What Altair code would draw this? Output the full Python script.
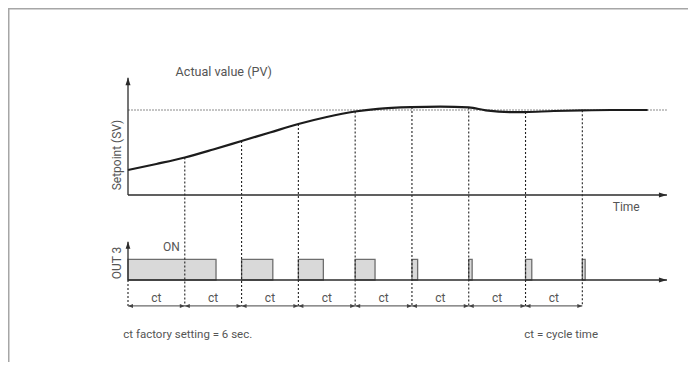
import altair as alt
import pandas as pd

# ---------------- data ----------------
# cycle boundaries, in units of the cycle time ct
ct_ticks = [0, 1, 2, 3, 4, 5, 6, 7, 8]
# actual value (PV) in % of setpoint
pv_t = [0, 0.5, 1, 1.5, 2, 2.5, 3, 3.5, 4, 4.4, 5, 5.5, 6, 6.3, 6.75, 7, 7.5, 8, 8.5, 9.15]
pv_val = [29.4, 36.5, 44.1, 53.5, 63.5, 73.5, 83.5, 91.8, 98.2, 101.4, 103.4, 103.9,
          103.0, 99.6, 97.4, 97.6, 98.8, 99.6, 100, 100]
setpoint = 100
# OUT 3 switched ON from pulse_on to pulse_off (ct units)
pulse_on = [0, 2, 3, 4, 5, 6, 7, 8]
pulse_off = [1.55, 2.55, 3.44, 4.35, 5.10, 6.06, 7.11, 8.05]

# ---------------- layout / style ----------------
W, H = 680, 354
X0, PX_CT = 120, 56.79
T_END = 9.49
PV_TOP = 138
OUT_TOP = 1.85
CT_ROW = -1.25
PV_RANGE = [187, 102]
OUT_RANGE = [272, 251.3]   # pixel rows of OUT state 0 and 1
FONT = "Roboto"
TXT = "#555555"
AX = "#2b2b2b"

xs = alt.Scale(domain=[0, 10], range=[X0, X0 + 10 * PX_CT], nice=False, zero=False)
ys = alt.Scale(domain=[0, 100], range=PV_RANGE, nice=False, zero=False)


def lane(v):
    """place an OUT-state level (0 = off, 1 = on) in the lower lane of the diagram"""
    pix = OUT_RANGE[0] + (OUT_RANGE[1] - OUT_RANGE[0]) * v
    return (pix - PV_RANGE[0]) / ((PV_RANGE[1] - PV_RANGE[0]) / 100.0)


def X(f):
    return alt.X(f, type="quantitative", scale=xs, axis=None)


def Y(f):
    return alt.Y(f, type="quantitative", scale=ys, axis=None)


pv_at = dict(zip(pv_t, pv_val))

curve_df = pd.DataFrame({"t": pv_t, "pv": pv_val})
sp_df = pd.DataFrame({"t0": [0], "t1": [T_END], "sp": [setpoint]})
pulse_df = pd.DataFrame({"on": pulse_on, "off": pulse_off, "lo": lane(0), "hi": lane(1)})
drop_df = pd.DataFrame({
    "t": ct_ticks,
    "top": [lane(0) if t == 0 else pv_at[t] for t in ct_ticks],
    "bot": lane(CT_ROW),
})
iv_df = pd.DataFrame({
    "s": ct_ticks[:-1],
    "e": ct_ticks[1:],
    "m": [(a + b) / 2 for a, b in zip(ct_ticks[:-1], ct_ticks[1:])],
    "row": lane(CT_ROW),
    "lab": "ct",
    "lab_y": lane(-0.85),
})

# axes as data
pv_axis_v = pd.DataFrame({"t": [0], "a": [0], "b": [PV_TOP]})
pv_axis_h = pd.DataFrame({"a": [0], "b": [T_END], "v": [0]})
out_axis_v = pd.DataFrame({"t": [0], "a": [lane(0)], "b": [lane(OUT_TOP)]})
out_axis_h = pd.DataFrame({"a": [0], "b": [T_END], "v": [lane(0)]})

UP = "M0,-1L0.68,1L-0.68,1Z"
RIGHT = "M1,0L-1,-0.6L-1,0.6Z"
SRIGHT = "M1,0L-1,-0.8L-1,0.8Z"
SLEFT = "M-1,0L1,-0.8L1,0.8Z"

layers = []

# frame (top and left edges only)
frame = pd.DataFrame({"a": [0]})
layers.append(alt.Chart(frame).mark_rule(color="#a6a6a6", strokeWidth=1.5).encode(
    x=alt.value(0.75), y=alt.value(0), y2=alt.value(H)))
layers.append(alt.Chart(frame).mark_rule(color="#a6a6a6", strokeWidth=1.5).encode(
    x=alt.value(0), x2=alt.value(W), y=alt.value(0.75)))

# setpoint dashed line
layers.append(alt.Chart(sp_df).mark_rule(color="#8a8a8a", strokeWidth=1, strokeDash=[2, 1]).encode(
    x=X("t0"), x2=alt.X2("t1"), y=Y("sp")))

# pulses
layers.append(alt.Chart(pulse_df).mark_rect(fill="#d9d9d9", stroke="#6e6e6e", strokeWidth=1.3).encode(
    x=X("on"), x2=alt.X2("off"), y=Y("hi"), y2=alt.Y2("lo")))

# dotted verticals
layers.append(alt.Chart(drop_df).mark_rule(color="#222222", strokeWidth=1.1, strokeDash=[2, 2]).encode(
    x=X("t"), y=Y("top"), y2=alt.Y2("bot")))

# curve
layers.append(alt.Chart(curve_df).mark_line(color="#1c1c1c", strokeWidth=2.2, interpolate="monotone").encode(
    x=X("t"), y=Y("pv")))

# axes
for d in (pv_axis_v, out_axis_v):
    layers.append(alt.Chart(d).mark_rule(color=AX, strokeWidth=1.3).encode(
        x=X("t"), y=Y("a"), y2=alt.Y2("b")))
for d in (pv_axis_h, out_axis_h):
    layers.append(alt.Chart(d).mark_rule(color=AX, strokeWidth=1.3).encode(
        x=X("a"), x2=alt.X2("b"), y=Y("v")))

# arrowheads
layers.append(alt.Chart(pv_axis_v).mark_point(shape=UP, size=56, filled=True, opacity=1, color=AX, yOffset=3.7).encode(
    x=X("t"), y=Y("b")))
layers.append(alt.Chart(out_axis_v).mark_point(shape=UP, size=49, filled=True, opacity=1, color=AX, yOffset=3.5).encode(
    x=X("t"), y=Y("b")))
for d in (pv_axis_h, out_axis_h):
    layers.append(alt.Chart(d).mark_point(shape=RIGHT, size=64, filled=True, opacity=1, color=AX, xOffset=-4).encode(
        x=X("b"), y=Y("v")))

# ct dimension arrows
layers.append(alt.Chart(iv_df).mark_rule(color="#6a6a6a", strokeWidth=1.2).encode(
    x=X("s"), x2=alt.X2("e"), y=Y("row")))
layers.append(alt.Chart(iv_df).mark_point(shape=SLEFT, size=25, filled=True, opacity=1, color="#444444", xOffset=2.5).encode(
    x=X("s"), y=Y("row")))
layers.append(alt.Chart(iv_df).mark_point(shape=SRIGHT, size=25, filled=True, opacity=1, color="#444444", xOffset=-2.5).encode(
    x=X("e"), y=Y("row")))
layers.append(alt.Chart(iv_df).mark_text(font=FONT, fontSize=12, color=TXT, baseline="middle").encode(
    x=X("m"), y=Y("lab_y"), text="lab:N"))


def label(t, v, txt, size=12, **kw):
    d = pd.DataFrame({"t": [t], "v": [v], "txt": [txt]})
    return alt.Chart(d).mark_text(font=FONT, fontSize=size, color=TXT, **kw).encode(
        x=X("t"), y=Y("v"), text="txt:N")


layers.append(label(0.838, 140.4, "Actual value (PV)", 12.6, align="left", baseline="alphabetic"))
layers.append(label(8.536, -18.8, "Time", 12, align="left", baseline="alphabetic"))
layers.append(label(-0.194, 47, "Setpoint (SV)", 12, angle=270, align="center", baseline="middle"))
layers.append(label(-0.185, lane(0.82), "OUT 3", 12, angle=270, align="center", baseline="middle"))
layers.append(label(0.766, lane(1.415), "ON", 12, align="center", baseline="alphabetic"))
layers.append(label(-0.083, lane(-2.80), "ct factory setting = 6 sec.", 11.5, align="left", baseline="alphabetic"))
layers.append(label(8.276, lane(-2.80), "ct = cycle time", 11.5, align="right", baseline="alphabetic"))

chart = alt.layer(*layers).properties(
    width=W, height=H, autosize=alt.AutoSizeParams(type="none"), padding=0,
    background="white",
).configure_view(stroke=None, strokeWidth=0).configure_axis(
    domain=False, grid=False, ticks=False, labels=False)

chart.save("out.html", embed_options={"renderer": "svg", "actions": False})
